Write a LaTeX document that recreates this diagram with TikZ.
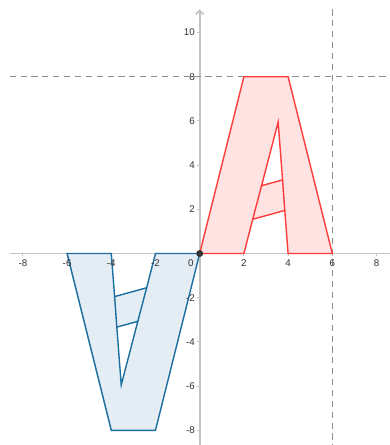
\documentclass[tikz,border=0pt]{standalone}
\usepackage{fontspec}
\setmainfont{Liberation Sans}
\usepackage{xcolor}
\usetikzlibrary{arrows.meta}

\definecolor{axisgray}{HTML}{C4C4C4}
\definecolor{dashgray}{HTML}{8C8C8C}
\definecolor{labelgray}{HTML}{333333}
\definecolor{aline}{HTML}{FF3B3B}
\definecolor{afill}{HTML}{FFE3E3}
\definecolor{vline}{HTML}{1A6EA0}
\definecolor{vfill}{HTML}{E4EDF4}

% outline of the letter, with the triangular hole under the apex
\newcommand{\letterpath}{(0,0) -- (2,8) -- (4,8) -- (6,0) -- (4,0) -- (3.85,1.95) -- (2.40,1.55) -- (2,0) -- cycle
  (2.80,3.07) -- (3.55,5.95) -- (3.75,3.33) -- cycle}
\newcommand{\letterlegs}{(2.40,1.55) -- (2.80,3.07) (3.85,1.95) -- (3.75,3.33)}

\begin{document}
\begin{tikzpicture}[x=0.5cm, y=0.5cm, font=\fontsize{6.3}{7}\selectfont,
  axis/.style={axisgray, line width=1.1pt},
  guide/.style={dashgray, line width=0.6pt, dash pattern=on 4pt off 3pt},
  ticklabel/.style={labelgray, inner sep=0.5pt},
  letterA/.style={draw=aline, fill=afill, line width=0.9pt, even odd rule, line join=miter},
  letterV/.style={draw=vline, fill=vfill, line width=0.9pt, even odd rule, line join=miter}]
\useasboundingbox (-9.036,-8.665) rectangle (8.611,11.471);

% axes
\draw[axis] (-8.6,0) -- (8.611,0);
\draw[axis, -{Straight Barb[length=2.5pt, width=5pt]}] (0,-8.665) -- (0,11.05);
\foreach \x in {-8,-6,-4,-2,2,4,6,8}
  \draw[axis, line width=0.6pt] (\x,0) -- (\x,-0.12);
\foreach \y in {-8,-6,-4,-2,2,4,6,8,10}
  \draw[axis, line width=0.6pt] (0,\y) -- (-0.12,\y);

% guide lines
\draw[guide] (-8.6,8) -- (8.611,8);
\draw[guide] (6,11.05) -- (6,-8.665);

% the letter and its image under the half turn
\draw[letterA] \letterpath;
\draw[aline, line width=0.9pt] \letterlegs;
\begin{scope}[rotate=180]
  \draw[letterV] \letterpath;
  \draw[vline, line width=0.9pt] \letterlegs;
\end{scope}

% tick labels
\foreach \x in {-8,-6,-4,-2,2,4,6,8}
  \node[ticklabel] at (\x,-0.42) {\x};
\node[ticklabel] at (-0.4,-0.42) {0};
\foreach \y in {-8,-6,-4,-2,2,4,6,8,10}
  \node[ticklabel, anchor=east] at (-0.17,\y) {\y};

\node[circle, fill=labelgray, inner sep=0pt, minimum size=4.5pt] (O) at (0,0) {};
\end{tikzpicture}
\end{document}
